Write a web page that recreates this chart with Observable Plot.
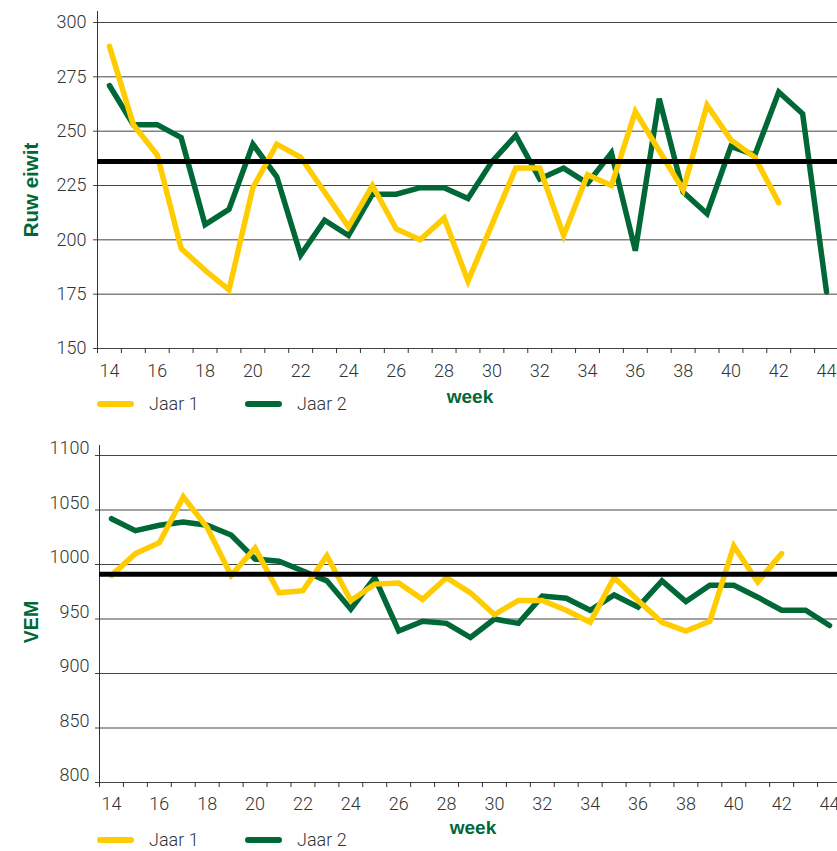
<!DOCTYPE html>
<html><head><meta charset="utf-8">
<script src="https://cdn.jsdelivr.net/npm/d3@7"></script>
<script src="https://cdn.jsdelivr.net/npm/@observablehq/plot@0.6"></script>
<style>
body{margin:0;background:#fff;}
#wrap{position:relative;width:837px;height:851px;overflow:hidden;font-family:Roboto,"Liberation Sans",sans-serif;}
.chart{position:absolute;left:0;}
.leg{position:absolute;left:0;height:20px;}
.leg .sw{position:absolute;top:7px;height:6px;width:37px;border-radius:3px;}
.leg .tx{position:absolute;top:0;line-height:20px;font-size:18px;color:#333;font-weight:300;white-space:nowrap;}
.xlab{position:absolute;font-family:"Liberation Sans",Arial,sans-serif;font-weight:bold;font-size:19px;color:#006837;transform:translate(-50%,-50%);white-space:nowrap;}
.ylab{position:absolute;font-family:"Liberation Sans",Arial,sans-serif;font-weight:bold;color:#006837;transform:translate(-50%,-50%) rotate(-90deg);white-space:nowrap;}
</style></head><body><div id="wrap"></div>
<script>
const YELLOW = "#ffcc00";
const GREEN = "#006837";

const weeksJaar1 = [14,15,16,17,18,19,20,21,22,23,24,25,26,27,28,29,30,31,32,33,34,35,36,37,38,39,40,41,42];
const weeksJaar2 = [14,15,16,17,18,19,20,21,22,23,24,25,26,27,28,29,30,31,32,33,34,35,36,37,38,39,40,41,42,43,44];
const weekLabels = [14,16,18,20,22,24,26,28,30,32,34,36,38,40,42,44];

const ruwJaar1 = [289,253,239,196,186,177,224,244,238,222,206,225,205,200,210,181,207,233,233,202,230,225,259,241,223,262,246,238,217];
const ruwJaar2 = [271,253,253,247,207,214,244,229,193,209,202,221,221,224,224,219,236,248,228,233,226,240,195,265,222,212,243,239,268,258,176];
const ruwGemiddeld = 236;
const ruwTicks = [150,175,200,225,250,275,300];

const vemJaar1 = [990,1010,1020,1062,1034,990,1015,974,976,1008,967,982,983,968,988,974,954,967,967,958,947,988,967,947,939,948,1017,984,1010];
const vemJaar2 = [1042,1031,1036,1039,1036,1027,1005,1003,994,985,959,988,939,948,946,933,950,946,971,969,958,972,961,985,966,981,981,970,958,958,944];
const vemGemiddeld = 991;
const vemTicks = [800,850,900,950,1000,1050,1100];

const legendLabels = ["Jaar 1", "Jaar 2"];

const wrap = document.getElementById("wrap");

function makeChart(cfg) {
  const d1 = weeksJaar1.map((w, i) => ({week: w, value: cfg.j1[i]}));
  const d2 = weeksJaar2.map((w, i) => ({week: w, value: cfg.j2[i]}));
  const bounds = weeksJaar2.map(w => w - 0.5);
  const x0 = weeksJaar2[0] - 0.5, x1 = weeksJaar2[weeksJaar2.length - 1] + 0.5;
  const svg = Plot.plot({
    width: 837,
    height: cfg.height,
    marginTop: cfg.marginTop,
    marginBottom: cfg.marginBottom,
    marginLeft: cfg.marginLeft,
    marginRight: cfg.marginRight,
    x: {domain: [x0, x1]},
    y: {domain: [cfg.ticks[0], cfg.ticks[cfg.ticks.length - 1]]},
    style: {fontFamily: "Roboto, 'Liberation Sans', sans-serif", fontSize: "18px", color: "#333", fontWeight: 300, background: "transparent"},
    marks: [
      Plot.ruleY(cfg.ticks, {stroke: "#444", strokeWidth: 1, insetLeft: -4}),
      Plot.ruleX([x0], {stroke: "#333", strokeWidth: 1, insetTop: cfg.axisExtTop, insetBottom: -5}),
      Plot.axisY({ticks: cfg.ticks, tickSize: 0, tickPadding: cfg.yPad, tickFormat: d => String(d), label: null, dy: cfg.yDy, fill: "#333"}),
      Plot.axisX({ticks: bounds, tickSize: 5, tickFormat: () => "", label: null, stroke: "#333"}),
      Plot.axisX({ticks: weekLabels, tickSize: 0, tickPadding: cfg.xPad, tickFormat: d => String(d), label: null, fill: "#333"}),
      Plot.line(d2, {x: "week", y: "value", stroke: GREEN, strokeWidth: 5.5, strokeLinejoin: "miter", strokeMiterlimit: 4}),
      Plot.line(d1, {x: "week", y: "value", stroke: YELLOW, strokeWidth: 5.5, strokeLinejoin: "miter", strokeMiterlimit: 4}),
      Plot.ruleY([cfg.avg], {stroke: "#000", strokeWidth: 5})
    ]
  });
  svg.classList.add("chart");
  svg.style.top = cfg.top + "px";
  wrap.appendChild(svg);

  const yl = document.createElement("div");
  yl.className = "ylab";
  yl.textContent = cfg.ylabel;
  yl.style.fontSize = cfg.ylabelSize + "px";
  yl.style.left = "31px";
  yl.style.top = cfg.ylabelY + "px";
  wrap.appendChild(yl);

  const xl = document.createElement("div");
  xl.className = "xlab";
  xl.textContent = "week";
  xl.style.left = cfg.weekX + "px";
  xl.style.top = cfg.weekY + "px";
  wrap.appendChild(xl);

  const leg = document.createElement("div");
  leg.className = "leg";
  leg.style.top = (cfg.legY - 10) + "px";
  leg.style.width = "837px";
  const items = [[YELLOW, 97, 149], [GREEN, 245, 297]];
  items.forEach(([c, sx, tx], i) => {
    const sw = document.createElement("div");
    sw.className = "sw"; sw.style.left = sx + "px"; sw.style.background = c;
    const t = document.createElement("div");
    t.className = "tx"; t.style.left = tx + "px"; t.textContent = legendLabels[i];
    leg.appendChild(sw); leg.appendChild(t);
  });
  wrap.appendChild(leg);
}

makeChart({
  top: 0, height: 385, marginTop: 22, marginBottom: 37, marginLeft: 97, marginRight: -1,
  ticks: ruwTicks, j1: ruwJaar1, j2: ruwJaar2, avg: ruwGemiddeld,
  axisExtTop: -11, yPad: 11, yDy: 0, xPad: 16,
  ylabel: "Ruw eiwit", ylabelSize: 20.5, ylabelY: 190, weekX: 470, weekY: 397, legY: 404
});

makeChart({
  top: 430, height: 390, marginTop: 25, marginBottom: 38, marginLeft: 99, marginRight: -4,
  ticks: vemTicks, j1: vemJaar1, j2: vemJaar2, avg: vemGemiddeld,
  axisExtTop: -10, yPad: 10, yDy: -7, xPad: 15,
  ylabel: "VEM", ylabelSize: 19.5, ylabelY: 622, weekX: 473, weekY: 828, legY: 840
});
</script></body></html>
